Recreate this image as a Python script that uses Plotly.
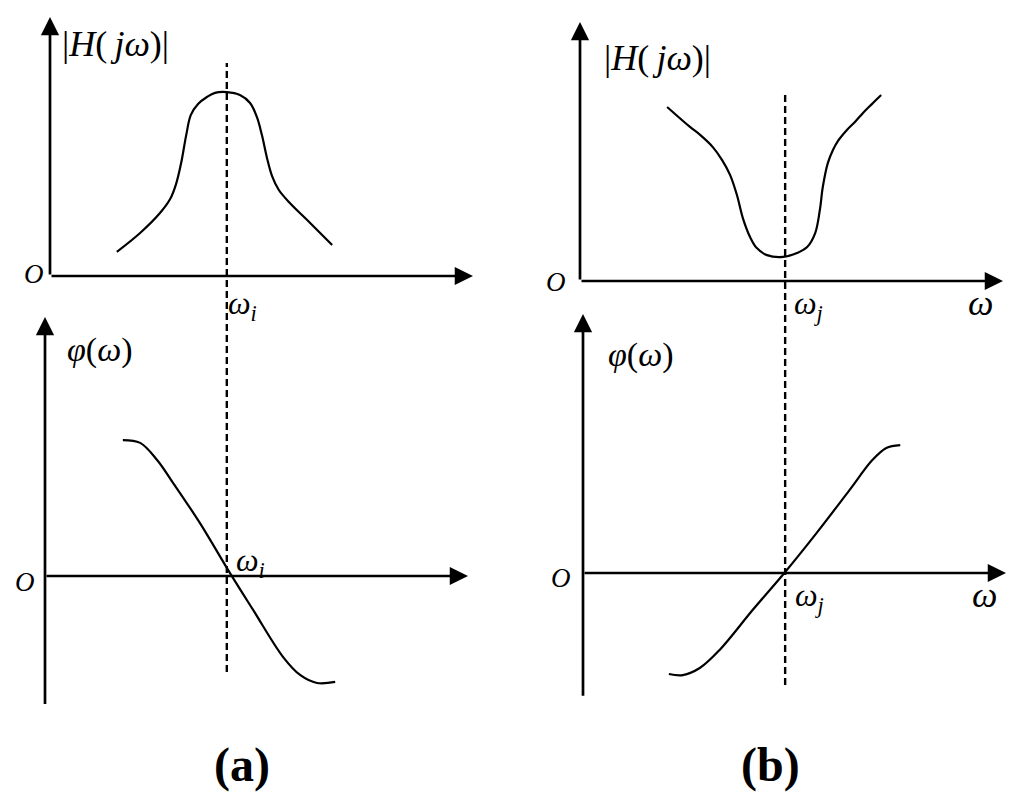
import plotly.graph_objects as go

W, H = 1024, 806

# ---------------- data (ω axis spans 0..10) ----------------
# (a) band-pass: magnitude
a_mag_w = [1.58, 2.13, 2.60, 2.84, 2.98, 3.10, 3.22, 3.33, 3.50, 3.71, 3.90, 4.18, 4.49, 4.73, 4.89, 5.01, 5.13, 5.25, 5.41, 5.67, 6.15, 6.67]
a_mag_h = [0.93, 1.66, 2.43, 2.97, 3.55, 4.36, 5.44, 6.22, 6.64, 6.91, 7.07, 7.10, 6.99, 6.68, 6.14, 5.44, 4.56, 3.86, 3.32, 2.82, 2.05, 1.20]
# (a) phase
a_ph_w = [1.84, 2.25, 2.65, 3.03, 3.66, 4.37, 4.92, 5.63, 6.03, 6.43, 6.86]
a_ph_p = [5.25, 5.14, 4.48, 3.59, 2.05, 0.12, -1.31, -3.13, -3.82, -4.13, -4.09]
# (b) band-stop: magnitude
b_mag_w = [2.06, 2.60, 2.84, 3.14, 3.36, 3.55, 3.71, 3.85, 4.02, 4.18, 4.42, 4.80, 5.13, 5.37, 5.56, 5.67, 5.74, 5.86, 5.98, 6.10, 6.31, 6.50, 6.69, 6.90, 7.12]
b_mag_h = [6.72, 5.95, 5.64, 5.17, 4.67, 4.09, 3.32, 2.43, 1.70, 1.27, 1.00, 0.93, 1.08, 1.31, 1.85, 2.74, 3.63, 4.56, 5.06, 5.41, 5.83, 6.14, 6.49, 6.83, 7.18]
# (b) phase
b_ph_w = [2.03, 2.36, 2.76, 3.23, 4.01, 4.76, 5.52, 6.30, 6.84, 7.17, 7.50]
b_ph_p = [-3.90, -3.94, -3.67, -2.97, -1.43, 0.00, 1.54, 3.20, 4.36, 4.83, 4.94]

w_i = 4.18          # centre frequency, panel (a)
w_j = 4.85          # notch frequency, panel (b)
axis_max = 10
phase_min_a = -5.0
phase_min_b = -4.8

panel_names = ["(a)", "(b)"]
mag_label = "|<i>H</i>(\u2009<i>jω</i>)|"
phase_label = "<i>φ</i>(<i>ω</i>)"

SERIF = "Liberation Serif, Times New Roman, serif"

# pixel scale of one unit along each axis
SX, SY = 42.3, 25.9
XPAD_L, XPAD_R = 1.0, 0.4
YPAD_B, YPAD_T = 1.8, 0.4

panels = [
    # x-axis id, y-axis id, origin pixel (x, y), lowest y of the vertical axis, data
    ("x", "y", (50, 276), 0, a_mag_w, a_mag_h),
    ("x2", "y2", (45, 576), phase_min_a, a_ph_w, a_ph_p),
    ("x3", "y3", (580, 281), 0, b_mag_w, b_mag_h),
    ("x4", "y4", (583, 573), phase_min_b, b_ph_w, b_ph_p),
]

def clamp(v):
    return max(0.0, min(1.0, v))

fig = go.Figure()
layout = dict(
    width=W, height=H,
    margin=dict(l=0, r=0, t=0, b=0, pad=0),
    paper_bgcolor="white", plot_bgcolor="rgba(0,0,0,0)",
    showlegend=False,
    font=dict(family=SERIF, color="black"),
)
annotations = []
shapes = []

for xa, ya, (ox, oy), ymin, xs, ys in panels:
    fig.add_trace(go.Scatter(
        x=xs, y=ys, xaxis=xa, yaxis=ya, mode="lines",
        line=dict(color="black", width=2.2, shape="spline", smoothing=1.0),
        hoverinfo="skip",
    ))
    xr = [-XPAD_L, axis_max + XPAD_R]
    yr = [min(ymin, 0) - YPAD_B, axis_max + YPAD_T]
    xd = [clamp((ox + xr[0] * SX) / W), clamp((ox + xr[1] * SX) / W)]
    yd = [clamp(1 - (oy - yr[0] * SY) / H), clamp(1 - (oy - yr[1] * SY) / H)]
    layout["xaxis" + xa[1:]] = dict(domain=xd, range=xr, visible=False,
                                    anchor=ya, fixedrange=True)
    layout["yaxis" + ya[1:]] = dict(domain=yd, range=yr, visible=False,
                                    anchor=xa, fixedrange=True)
    arrow = dict(xref=xa, yref=ya, axref=xa, ayref=ya, showarrow=True, text="",
                 arrowhead=2, arrowsize=1.35, arrowwidth=2.7, arrowcolor="black",
                 standoff=0, startstandoff=0)
    annotations.append(dict(arrow, x=axis_max, y=0, ax=0, ay=0))     # ω axis
    annotations.append(dict(arrow, x=0, y=axis_max, ax=0, ay=ymin))  # vertical axis

# dashed marker lines
shapes.append(dict(type="line", xref="x", yref="paper", x0=w_i, x1=w_i,
                   y0=1 - 672 / H, y1=1 - 63 / H,
                   line=dict(color="black", width=2.4, dash="7px,4px")))
shapes.append(dict(type="line", xref="x3", yref="paper", x0=w_j, x1=w_j,
                   y0=1 - 685 / H, y1=1 - 92 / H,
                   line=dict(color="black", width=2.4, dash="7px,4px")))

def label(text, xa, ya, x, y, size=28):
    annotations.append(dict(text=text, xref=xa, yref=ya, x=x, y=y, showarrow=False,
                            xanchor="center", yanchor="middle",
                            font=dict(family=SERIF, size=size, color="black")))

wi_txt = "<i>ω</i><sub><i>i</i></sub>"
wj_txt = "<i>ω</i><sub><i>j</i></sub>"
O_txt = "<i>O</i>"

# panel (a) top
label(mag_label, "x", "y", 1.56, 8.96, 36)
label(O_txt, "x", "y", -0.38, 0.08, 27)
label(wi_txt, "x", "y", 4.54, -1.12, 32)
# panel (a) bottom
label(phase_label, "x2", "y2", 1.30, 8.73, 34)
label(O_txt, "x2", "y2", -0.47, -0.24, 27)
label(wi_txt, "x2", "y2", 4.85, 0.54, 32)
# panel (b) top
label(mag_label, "x3", "y3", 1.84, 8.61, 36)
label(O_txt, "x3", "y3", -0.57, -0.05, 27)
label(wj_txt, "x3", "y3", 5.39, -0.93, 32)
label("<i>ω</i>", "x3", "y3", 9.46, -0.85, 36)
# panel (b) bottom
label(phase_label, "x4", "y4", 1.37, 8.42, 34)
label(O_txt, "x4", "y4", -0.52, -0.20, 27)
label(wj_txt, "x4", "y4", 5.35, -0.93, 32)
label("<i>ω</i>", "x4", "y4", 9.48, -0.85, 36)

# panel captions
for name, px in zip(panel_names, [242, 770]):
    annotations.append(dict(text="<b>" + name + "</b>", xref="paper", yref="paper",
                            x=px / W, y=1 - 765 / H, showarrow=False,
                            xanchor="center", yanchor="middle",
                            font=dict(family=SERIF, size=48, color="black")))

layout["annotations"] = annotations
layout["shapes"] = shapes
fig.update_layout(**layout)
fig.write_html("out.html", config={"displayModeBar": False},
               post_script="document.body.style.margin='0';document.body.style.overflow='hidden';")
